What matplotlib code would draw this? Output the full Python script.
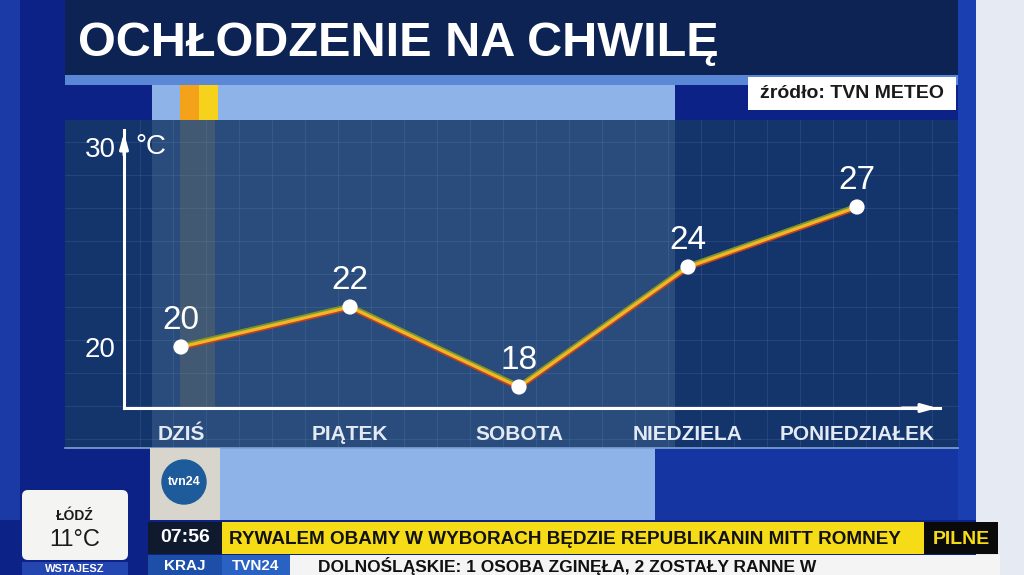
import matplotlib
matplotlib.use("Agg")
import matplotlib.pyplot as plt
from matplotlib.patches import Rectangle, FancyBboxPatch
from matplotlib.transforms import ScaledTranslation
import numpy as np

plt.rcParams['font.family'] = ['Liberation Sans', 'DejaVu Sans']

# data
days = ['DZIŚ', 'PIĄTEK', 'SOBOTA', 'NIEDZIELA', 'PONIEDZIAŁEK']
temps = [20, 22, 18, 24, 27]
y_ticks = [20, 30]

title = 'OCHŁODZENIE NA CHWILĘ'
source = 'źródło: TVN METEO'
ticker_main = 'RYWALEM OBAMY W WYBORACH BĘDZIE REPUBLIKANIN MITT ROMNEY'
ticker_low = 'DOLNOŚLĄSKIE: 1 OSOBA ZGINĘŁA, 2 ZOSTAŁY RANNE W'

W, H = 1024, 575
fig = plt.figure(figsize=(W / 100, H / 100), dpi=100)

# background layer in pixel coords (y down)
bg = fig.add_axes([0, 0, 1, 1])
bg.set_xlim(0, W)
bg.set_ylim(H, 0)
bg.axis('off')


def box(x0, y0, x1, y1, color, alpha=1.0, z=0):
    bg.add_patch(Rectangle((x0, y0), x1 - x0, y1 - y0, color=color,
                           alpha=alpha, lw=0, zorder=z))


box(0, 0, W, H, '#0d2286')
box(0, 0, 20, 520, '#1b3aa6')
box(958, 0, 976, 520, '#1a3fb0')
box(976, 0, W, H, '#e6eaf3')
# title bar
box(65, 0, 958, 75, '#0c2353')
bg.text(78, 44, title, color='white', fontsize=35, fontweight='bold',
        va='center', ha='left')
box(65, 75, 958, 85, '#5b88d6')
# video strip
box(152, 85, 675, 520, '#8db3e8')
box(655, 448, 958, 520, '#1535a2')
box(180, 85, 199, 120, '#f4a21a', z=1)
box(199, 85, 218, 120, '#f7d21c', z=1)
# source label
box(748, 77, 956, 110, 'white', z=2)
bg.text(852, 94, source, color='#1a1a1a', fontsize=14, fontweight='bold',
        ha='center', va='center', zorder=3)
# chart panel
box(65, 120, 958, 448, '#163868', alpha=0.84, z=1)
box(180, 120, 215, 408, '#9a8a50', alpha=0.22, z=1)
for gx in np.arange(140, 958, 33):
    bg.plot([gx, gx], [120, 448], color='#6f93c0', lw=0.6, alpha=0.22, zorder=1)
for gy in np.arange(142, 448, 33):
    bg.plot([65, 958], [gy, gy], color='#6f93c0', lw=0.6, alpha=0.22, zorder=1)
bg.plot([65, 958], [448, 448], color='#7fa2d4', lw=1.2, zorder=1)

# logo box
box(150, 448, 220, 520, '#d8d6cc', z=2)
bg.add_patch(plt.Circle((184, 482), 22, color='#1e5b9a', zorder=3))
bg.text(184, 482, 'tvn24', color='white', fontsize=9, fontweight='bold',
        ha='center', va='center', zorder=4)

# weather box
bg.add_patch(FancyBboxPatch((22, 490), 106, 70, boxstyle='round,pad=0,rounding_size=6',
                            fc='#f4f4f2', ec='none', zorder=2))
bg.text(75, 516, 'ŁÓDŹ', color='#1b1b1b', fontsize=10, fontweight='bold',
        ha='center', va='center', zorder=3)
bg.text(75, 540, '11°C', color='#1b1b1b', fontsize=17, ha='center',
        va='center', zorder=3)
box(22, 562, 128, H, '#2446b0', z=2)
bg.text(75, 568.5, 'WSTAJESZ', color='white', fontsize=8, fontweight='bold',
        ha='center', va='center', zorder=3)

# ticker
box(148, 522, 222, 554, '#0f1a2e', z=2)
bg.text(185, 538, '07:56', color='white', fontsize=14, fontweight='bold',
        ha='center', va='center', zorder=3)
box(222, 522, 924, 554, '#f6dc16', z=2)
bg.text(229, 539, ticker_main, color='#111111', fontsize=13.6, fontweight='bold',
        ha='left', va='center', zorder=3)
box(924, 522, 998, 554, '#0a0a0a', z=2)
bg.text(961, 539, 'PILNE', color='#f6dc16', fontsize=14, fontweight='bold',
        ha='center', va='center', zorder=3)
box(148, 555, 222, H, '#1d4fa8', z=2)
bg.text(185, 566, 'KRAJ', color='white', fontsize=11, fontweight='bold',
        ha='center', va='center', zorder=3)
box(222, 555, 290, H, '#2a62c4', z=2)
bg.text(256, 566, 'TVN24', color='white', fontsize=11, fontweight='bold',
        ha='center', va='center', zorder=3)
box(290, 555, 1000, H, '#f4f4f4', z=2)
bg.text(318, 566, ticker_low, color='#111111', fontsize=12.5, fontweight='bold',
        ha='left', va='center', zorder=3)

# chart axes: left 124, right 940, top 130, bottom 408 px
ax = fig.add_axes([124 / W, (H - 408) / H, 816 / W, 278 / H])
ax.patch.set_alpha(0)
x = np.arange(len(days))
ax.set_xlim(-57 / 169, 4 + 83 / 169)
ax.set_ylim(20 - 61 / 20, 30 + 17 / 20)

up = ax.transData + ScaledTranslation(0, 1.3 / 100, fig.dpi_scale_trans)
ax.plot(x, temps, color='#c8401a', lw=4.6, solid_joinstyle='miter', zorder=3)
ax.plot(x, temps, color='#6f9a30', lw=3.0, solid_joinstyle='miter', zorder=3,
        transform=up)
ax.plot(x, temps, color='#f0b62a', lw=2.3, solid_joinstyle='miter', zorder=4)
ax.scatter(x, temps, s=120, color='white', zorder=5, edgecolors='none')
for xi, t in zip(x, temps):
    ax.annotate(str(t), (xi, t), xytext=(0, 8), textcoords='offset points',
                ha='center', va='bottom', color='white', fontsize=24, zorder=6)

for s in ['top', 'right']:
    ax.spines[s].set_visible(False)
for s in ['left', 'bottom']:
    ax.spines[s].set_color('white')
    ax.spines[s].set_linewidth(2.2)
ax.annotate('', xy=(0, 1.0), xytext=(0, 0.9), xycoords='axes fraction',
            arrowprops=dict(arrowstyle='-|>,head_length=0.9,head_width=0.25',
                            color='white', lw=2.2))
ax.annotate('', xy=(1.0, 0), xytext=(0.95, 0), xycoords='axes fraction',
            arrowprops=dict(arrowstyle='-|>,head_length=0.9,head_width=0.25',
                            color='white', lw=2.2))

ax.set_xticks(x)
ax.set_xticklabels(days, color='#e4eaf4', fontsize=15, fontweight='bold')
ax.set_yticks(y_ticks)
ax.set_yticklabels([str(v) for v in y_ticks], color='white', fontsize=20)
ax.tick_params(length=0)
ax.tick_params(axis='x', pad=12)
ax.tick_params(axis='y', pad=6)
ax.text(0.014, 30, '°C', color='white', fontsize=20, va='center', ha='left',
        transform=ax.get_yaxis_transform())

fig.savefig('out.png', dpi=100)
